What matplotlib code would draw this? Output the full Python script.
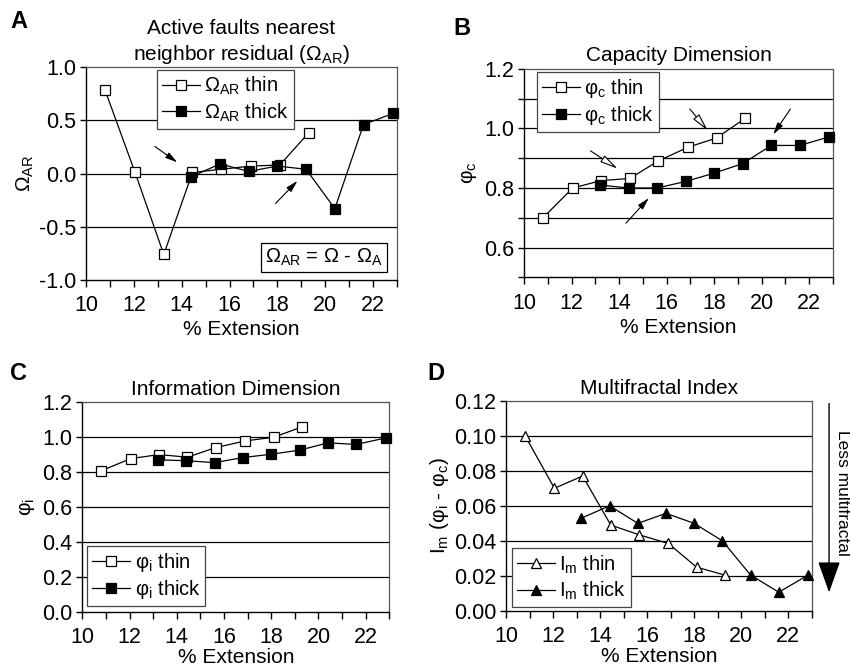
import matplotlib
matplotlib.use("Agg")
import matplotlib.pyplot as plt

plt.rcParams["font.family"] = ["Liberation Sans", "DejaVu Sans"]
plt.rcParams["mathtext.fontset"] = "custom"
plt.rcParams["mathtext.rm"] = "Liberation Sans"
plt.rcParams["mathtext.it"] = "Liberation Sans:italic"
plt.rcParams["font.size"] = 13

# x positions (% extension)
ext_thin = [10.8, 12.05, 13.25, 14.45, 15.65, 16.9, 18.1, 19.3]
ext_thick = [13.2, 14.4, 15.6, 16.8, 18.0, 19.2, 20.4, 21.6, 22.85]

# A: nearest neighbour residual
omega_thin = [0.78, 0.01, -0.76, 0.01, 0.04, 0.07, 0.08, 0.38]
omega_thick = [-0.03, 0.09, 0.02, 0.07, 0.04, -0.33, 0.46, 0.565]  # starts at 14.4

# B: capacity dimension
cap_thin = [0.70, 0.80, 0.825, 0.832, 0.891, 0.937, 0.968, 1.034]
cap_thick = [0.81, 0.80, 0.80, 0.822, 0.85, 0.882, 0.943, 0.943, 0.972]

# C: information dimension
info_thin = [0.805, 0.875, 0.898, 0.883, 0.938, 0.976, 0.997, 1.056]
info_thick = [0.868, 0.863, 0.852, 0.881, 0.900, 0.923, 0.965, 0.956, 0.993]

# D: multifractal index
mf_thin = [0.100, 0.070, 0.077, 0.049, 0.0435, 0.0385, 0.025, 0.0205]
mf_thick = [0.053, 0.060, 0.050, 0.0557, 0.050, 0.040, 0.0205, 0.0107, 0.0205]

x_ticks = [10, 12, 14, 16, 18, 20, 22]

fig = plt.figure(figsize=(8.5, 6.67), dpi=100)
axA = fig.add_axes([0.1012, 0.5802, 0.3659, 0.3193])
axB = fig.add_axes([0.6165, 0.5843, 0.3635, 0.3123])
axC = fig.add_axes([0.0968, 0.0829, 0.3612, 0.3148])
axD = fig.add_axes([0.5956, 0.0840, 0.3593, 0.3153])


def style_axes(ax, ylim, yticks, grid, xlabelpad=3):
    ax.set_xlim(10, 23)
    ax.set_xticks(x_ticks)
    ax.set_xticks(range(10, 24), minor=True)
    ax.set_ylim(*ylim)
    ax.set_yticks(yticks)
    for g in grid:
        ax.axhline(g, color="black", lw=0.9, zorder=1)
    ax.tick_params(axis="x", direction="out", length=5, width=1, labelsize=15.5, pad=6)
    ax.tick_params(axis="y", direction="out", length=4, width=1, labelsize=15.5, pad=3)
    ax.tick_params(axis="x", which="minor", direction="out", length=5, width=1)
    ax.tick_params(axis="y", which="minor", length=4, width=1)
    for s in ["left", "bottom"]:
        ax.spines[s].set_color("black")
        ax.spines[s].set_linewidth(1.0)
    for s in ["top", "right"]:
        ax.spines[s].set_color("#555555")
        ax.spines[s].set_linewidth(0.9)
    ax.set_xlabel("% Extension", fontsize=15, labelpad=xlabelpad)


def plot_pair(ax, thin, thick, marker, lab, x_thick):
    ms = 7.5 if marker == "^" else 6.5
    ax.plot(ext_thin, thin, color="black", lw=0.9, marker=marker, ms=ms,
            mfc="white", mec="black", mew=0.9, label=lab + " thin", zorder=3, clip_on=False)
    ax.plot(x_thick, thick, color="black", lw=0.9, marker=marker, ms=ms,
            mfc="black", mec="black", mew=0.9, label=lab + " thick", zorder=3, clip_on=False)


def legend(ax, loc, anchor):
    leg = ax.legend(loc=loc, bbox_to_anchor=anchor, borderaxespad=0, fancybox=False,
                    edgecolor="#444444", framealpha=1, fontsize=14.5, handlelength=1.9,
                    handletextpad=0.2, borderpad=0.25, labelspacing=0.2)
    leg.get_frame().set_linewidth(0.9)
    leg.set_zorder(5)


black_arrow = dict(arrowstyle="-|>,head_length=0.6,head_width=0.16", fc="black", ec="black",
                   lw=0.8, mutation_scale=12)
white_arrow = dict(arrowstyle="-|>,head_length=0.9,head_width=0.2", fc="white", ec="black",
                   lw=0.8, mutation_scale=12)

# Panel A
style_axes(axA, (-1.0, 1.0), [-1.0, -0.5, 0.0, 0.5, 1.0], [-0.5, 0.0, 0.5])
axA.set_yticklabels(["-1.0", "-0.5", "0.0", "0.5", "1.0"])
plot_pair(axA, omega_thin, omega_thick, "s", "Ω$_{\\mathrm{AR}}$", ext_thick[1:])
axA.set_ylabel("Ω$_{\\mathrm{AR}}$", fontsize=15, labelpad=2)
axA.set_title("Active faults nearest\nneighbor residual (Ω$_{\\mathrm{AR}}$)", fontsize=15,
              linespacing=1.3, pad=5)
legend(axA, "upper left", (0.228, 0.986))
axA.text(0.765, 0.106, "Ω$_{\\mathrm{AR}}$ = Ω - Ω$_{\\mathrm{A}}$", transform=axA.transAxes,
         ha="center", va="center", fontsize=14.5,
         bbox=dict(boxstyle="square,pad=0.2", fc="white", ec="black", lw=0.9))
axA.annotate("", xy=(13.91, 0.09), xytext=(12.78, 0.27), arrowprops=black_arrow)
axA.annotate("", xy=(18.92, -0.05), xytext=(17.84, -0.30), arrowprops=black_arrow)

# Panel B
style_axes(axB, (0.5, 1.2), [0.6, 0.8, 1.0, 1.2], [0.6, 0.7, 0.8, 0.9, 1.0, 1.1])
axB.set_yticks([0.5, 0.7, 0.9, 1.1], minor=True)
axB.set_yticklabels(["0.6", "0.8", "1.0", "1.2"])
plot_pair(axB, cap_thin, cap_thick, "s", "φ$_{\\mathrm{c}}$", ext_thick)
axB.set_ylabel("φ$_{\\mathrm{c}}$", fontsize=15, labelpad=4)
axB.set_title("Capacity Dimension", fontsize=15, pad=6)
legend(axB, "upper left", (0.042, 0.986))
axB.annotate("", xy=(14.03, 0.86), xytext=(12.70, 0.93), arrowprops=white_arrow)
axB.annotate("", xy=(17.80, 0.986), xytext=(16.90, 1.073), arrowprops=white_arrow)
axB.annotate("", xy=(15.33, 0.773), xytext=(14.21, 0.675), arrowprops=black_arrow)
axB.annotate("", xy=(20.42, 0.972), xytext=(21.27, 1.073), arrowprops=black_arrow)

# Panel C
style_axes(axC, (0.0, 1.2), [0.0, 0.2, 0.4, 0.6, 0.8, 1.0, 1.2], [0.2, 0.4, 0.6, 0.8, 1.0],
           xlabelpad=0)
axC.set_yticklabels(["0.0", "0.2", "0.4", "0.6", "0.8", "1.0", "1.2"])
plot_pair(axC, info_thin, info_thick, "s", "φ$_{\\mathrm{i}}$", ext_thick)
axC.set_ylabel("φ$_{\\mathrm{i}}$", fontsize=15, labelpad=4)
axC.set_title("Information Dimension", fontsize=15, pad=5)
legend(axC, "lower left", (0.016, 0.027))

# Panel D
style_axes(axD, (0.0, 0.12), [0.0, 0.02, 0.04, 0.06, 0.08, 0.10, 0.12],
           [0.02, 0.04, 0.06, 0.08, 0.10], xlabelpad=0)
axD.set_yticklabels(["0.00", "0.02", "0.04", "0.06", "0.08", "0.10", "0.12"])
plot_pair(axD, mf_thin, mf_thick, "^", "I$_{\\mathrm{m}}$", ext_thick)
axD.set_ylabel("I$_{\\mathrm{m}}$ (φ$_{\\mathrm{i}}$ - φ$_{\\mathrm{c}}$)", fontsize=15, labelpad=2)
axD.set_title("Multifractal Index", fontsize=15, pad=5)
legend(axD, "lower left", (0.018, 0.018))
axD.annotate("", xy=(1.057, 0.075), xytext=(1.057, 1.0), xycoords="axes fraction",
             arrowprops=dict(arrowstyle="-|>,head_length=1.4,head_width=0.5", color="black",
                             lw=1.0, mutation_scale=14), annotation_clip=False)
axD.text(1.10, 0.563, "Less multifractal", transform=axD.transAxes, rotation=270,
         ha="center", va="center", fontsize=12.5)

# panel letters
for lab, (x, y) in zip("ABCD", [(0.012, 0.968), (0.533, 0.958), (0.012, 0.44), (0.503, 0.44)]):
    fig.text(x, y, lab, fontsize=17, fontweight="bold", ha="left", va="center")

fig.savefig("out.png", dpi=100)
